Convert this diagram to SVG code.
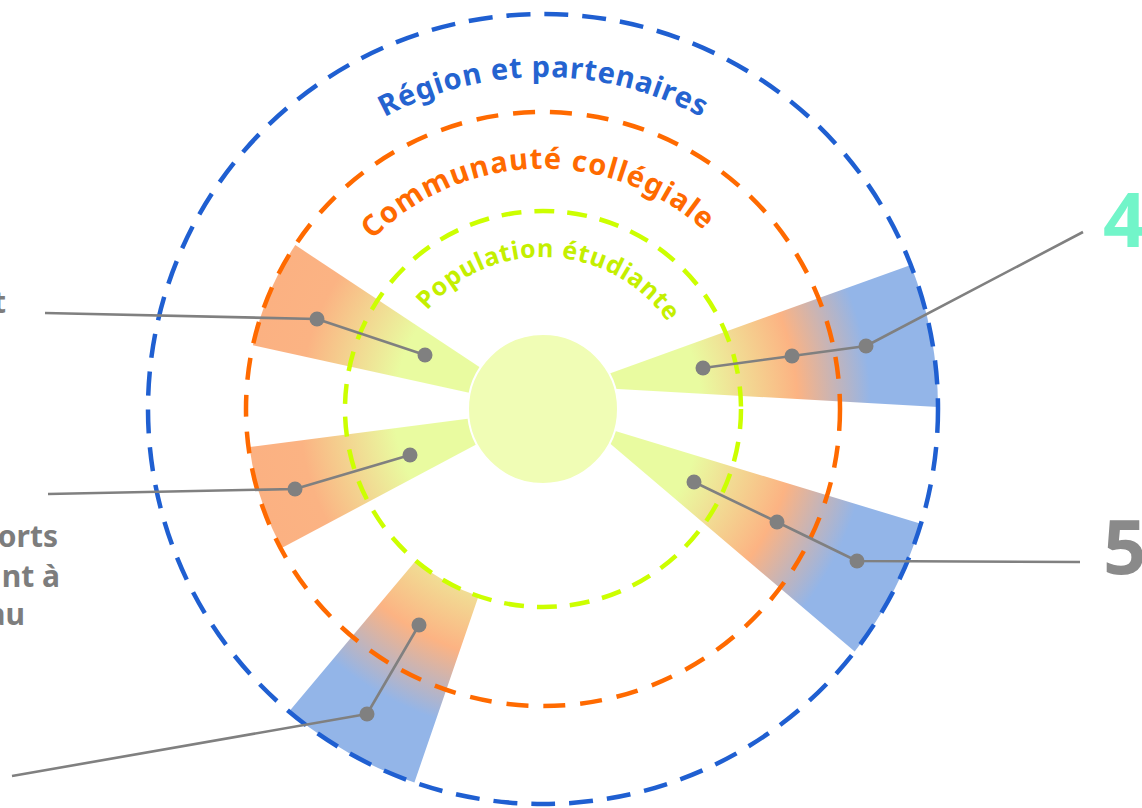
<svg xmlns="http://www.w3.org/2000/svg" width="1142" height="808" viewBox="0 0 1142 808">
  <style>
    .ring { fill: none; stroke-width: 4.5; }
    .blue { stroke: #1f5fd1; stroke-dasharray: 24 14; }
    .orange { stroke: #ff6a00; stroke-dasharray: 22 15; }
    .green { stroke: #ccff00; stroke-dasharray: 20 13; }
    .arc { font-family: "Noto Sans", "DejaVu Sans", sans-serif; font-weight: 700; }
    .conn { fill: none; stroke: #808080; stroke-width: 2.6; stroke-linejoin: round; }
    .dot { fill: #808080; }
    .side { font-family: "Noto Sans", "DejaVu Sans", sans-serif; font-weight: 700; fill: #7d7d7d; font-size: 30px; }
    .num { font-family: "Noto Sans", "DejaVu Sans", sans-serif; font-weight: 700; font-size: 76px; }
  </style>
  <defs>
    <radialGradient id="gBlue" gradientUnits="userSpaceOnUse" cx="543" cy="409" r="395">
      <stop offset="0" stop-color="#e9fba0"/>
      <stop offset="0.40" stop-color="#e9fba0"/>
      <stop offset="0.645" stop-color="#fcb383"/>
      <stop offset="0.83" stop-color="#93b5e8"/>
      <stop offset="1" stop-color="#93b5e8"/>
    </radialGradient>
    <radialGradient id="gOrange" gradientUnits="userSpaceOnUse" cx="543" cy="409" r="297">
      <stop offset="0" stop-color="#e9fba0"/>
      <stop offset="0.5" stop-color="#e9fba0"/>
      <stop offset="0.82" stop-color="#fbb383"/>
      <stop offset="1" stop-color="#fbb182"/>
    </radialGradient>
    <path id="pRegion" d="M255.5,243 A332,332 0 0 1 830.5,243"/>
    <path id="pComm" d="M306.6,367.3 A240,240 0 0 1 779.4,367.3"/>
    <path id="pPop" d="M391,409 A152,152 0 0 1 695,409"/>
  </defs>
  <rect width="1142" height="808" fill="#ffffff"/>

  <g id="wedges">
    <path id="wedge1" fill="url(#gOrange)" d="M543,409 L252.9,345.2 A297,297 0 0 1 295.3,245.1 Z"/>
    <path id="wedge2" fill="url(#gBlue)" d="M600,377 L910.8,264.9 A395,395 0 0 1 938,406.9 L600,388 Z"/>
    <path id="wedge3" fill="url(#gBlue)" d="M543,409 L920.9,523.8 A395,395 0 0 1 854.7,651.6 L600,435 Z"/>
    <path id="wedge4" fill="url(#gOrange)" d="M543,409 L281.7,548 A296,296 0 0 1 249.5,447.1 Z"/>
    <path id="wedge5" fill="url(#gBlue)" d="M478.5,596.2 L414.4,782.5 A395,395 0 0 1 289.1,711.6 L415.7,560.7 A198,198 0 0 0 478.5,596.2 Z"/>
  </g>

  <g id="rings">
    <circle id="ring-region" class="ring blue" cx="543" cy="409" r="395"/>
    <circle id="ring-communaute" class="ring orange" cx="543" cy="409" r="297"/>
    <circle id="ring-population" class="ring green" cx="543" cy="409" r="198"/>
  </g>

  <g id="center">
    <circle cx="543" cy="409" r="75" fill="#f0fdb5" stroke="#ffffff" stroke-width="2"/>
  </g>

  <g id="ring-labels">
    <text class="arc" font-size="29" fill="#2463d0"><textPath href="#pRegion" startOffset="50%" text-anchor="middle" textLength="330">Région et partenaires</textPath></text>
    <text class="arc" font-size="29" fill="#ff6a00"><textPath href="#pComm" startOffset="49%" text-anchor="middle" textLength="366">Communauté collégiale</textPath></text>
    <text class="arc" font-size="25" fill="#c4ef00"><textPath href="#pPop" startOffset="51.5%" text-anchor="middle" textLength="278">Population étudiante</textPath></text>
  </g>

  <g id="connectors">
    <polyline class="conn" points="45,313 317,319 425,355"/>
    <circle class="dot" cx="317" cy="319" r="7.5"/>
    <circle class="dot" cx="425" cy="355" r="7.5"/>

    <polyline class="conn" points="48,494 295,489 410,455"/>
    <circle class="dot" cx="295" cy="489" r="7.5"/>
    <circle class="dot" cx="410" cy="455" r="7.5"/>

    <polyline class="conn" points="12,776 367,714 419,625"/>
    <circle class="dot" cx="367" cy="714" r="7.5"/>
    <circle class="dot" cx="419" cy="625" r="7.5"/>

    <polyline class="conn" points="1083,232 866,346 792,356 703,368"/>
    <circle class="dot" cx="866" cy="346" r="7.5"/>
    <circle class="dot" cx="792" cy="356" r="7.5"/>
    <circle class="dot" cx="703" cy="368" r="7.5"/>

    <polyline class="conn" points="1080,562 857,561 777,522 694,482"/>
    <circle class="dot" cx="857" cy="561" r="7.5"/>
    <circle class="dot" cx="777" cy="522" r="7.5"/>
    <circle class="dot" cx="694" cy="482" r="7.5"/>
  </g>

  <g id="side-labels">
    <text class="side" x="6" y="313" text-anchor="end">t</text>
    <text class="side" x="58" y="547" text-anchor="end">orts</text>
    <text class="side" x="60" y="587" text-anchor="end">nt à</text>
    <text class="side" x="25" y="625" text-anchor="end">au</text>
    <text class="num" x="1103" y="247" fill="#72f5c9">4</text>
    <text class="num" x="1103" y="574" fill="#8a8a8a">5</text>
  </g>
</svg>
